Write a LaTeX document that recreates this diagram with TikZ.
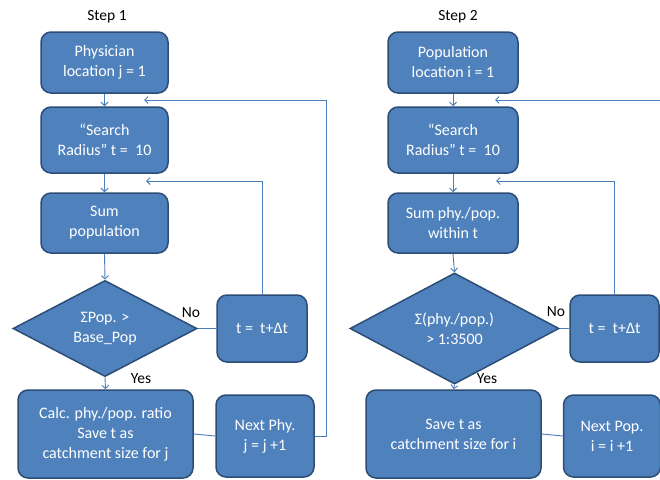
\documentclass[tikz,border=0pt]{standalone}
\usepackage{fontspec}
\setmainfont{Carlito}
\usetikzlibrary{shapes.geometric,arrows.meta}
\definecolor{boxfill}{HTML}{4F81BD}
\definecolor{boxline}{HTML}{2C4D75}
\definecolor{connc}{HTML}{4A7EBB}
\tikzset{
  box/.style={draw=boxline, fill=boxfill, line width=1.5pt, rounded corners=10pt,
    text=white, align=center, inner sep=0pt, font=\fontsize{16}{20}\selectfont},
  dec/.style={diamond, draw=boxline, fill=boxfill, line width=1.5pt,
    text=white, align=center, inner sep=0pt, font=\fontsize{16}{20}\selectfont},
  conn/.style={draw=connc, line width=0.9pt},
  arr/.style={conn, -{Straight Barb[length=3.5pt,width=7pt]}},
  lab/.style={font=\fontsize{15.5}{18}\selectfont, text=black, inner sep=0pt}
}
\begin{document}
\begin{tikzpicture}[x=1pt,y=-1pt]
\path[use as bounding box, fill=white] (0,0) rectangle (660,479);
\clip (0,0) rectangle (660,479);

% ---------- Step 1 ----------
\node[lab] (s1) at (107,17) {Step 1};
\node[box, minimum width=127pt, minimum height=61pt] (p1) at (104.5,62.5) {Physician\\location j = 1};
\node[box, minimum width=127pt, minimum height=66pt] (r1) at (104.5,140) {“Search\\Radius” t =~ 10};
\node[box, minimum width=127pt, minimum height=60pt] (u1) at (104.5,223) {Sum\\population};
\node[dec, minimum width=184pt, minimum height=93pt] (d1) at (105,328.5) {ΣPop. >\\Base\_Pop};
\node[box, minimum width=90pt, minimum height=67pt] (t1) at (262,328.5) {t =~ t+Δt};
\node[box, minimum width=175pt, minimum height=88pt] (c1) at (105.5,434) {Calc. phy./pop. ratio\\Save t as\\catchment size for j};
\node[box, minimum width=98pt, minimum height=82pt] (n1) at (265,436) {Next Phy.\\j = j +1};
\node[lab] (no1) at (191,313) {No};
\node[lab] (yes1) at (141,379) {Yes};
\coordinate (j1) at (144,100);
\coordinate (k1) at (146,181);
\coordinate (e1) at (326,100);

\draw[arr] (p1.south) -- (r1.north);
\draw[arr] (r1.south) -- (u1.north);
\draw[arr] (u1.south) -- (d1.north);
\draw[arr] (d1.south) -- (c1.north);
\draw[conn] (d1.east) -- (t1.west);
\draw[conn] (c1.east) -- (n1.west);
\draw[arr] (t1.north) |- (k1);
\draw[arr] (n1.east) -| (e1) -- (j1);

% ---------- Step 2 ----------
\node[lab] (s2) at (458,17) {Step 2};
\node[box, minimum width=130pt, minimum height=61pt] (p2) at (453,62.5) {Population\\location i = 1};
\node[box, minimum width=130pt, minimum height=66pt] (r2) at (453,140) {“Search\\Radius” t =~ 10};
\node[box, minimum width=130pt, minimum height=60pt] (u2) at (453,223) {Sum phy./pop.\\within t};
\node[dec, minimum width=209pt, minimum height=93pt] (d2) at (454.5,328.5) {Σ(phy./pop.)\\> 1:3500};
\node[box, minimum width=89pt, minimum height=67pt] (t2) at (614.5,328.5) {t =~ t+Δt};
\node[box, minimum width=175pt, minimum height=88pt] (c2) at (453.5,434) {Save t as\\catchment size for i};
\node[box, minimum width=97pt, minimum height=82pt] (n2) at (612,436) {Next Pop.\\i = i +1};
\node[lab] (no2) at (556,312) {No};
\node[lab] (yes2) at (487,379) {Yes};
\coordinate (j2) at (495,100);
\coordinate (k2) at (496,181);
\coordinate (e2) at (690,100);

\draw[arr] (p2.south) -- (r2.north);
\draw[arr] (r2.south) -- (u2.north);
\draw[arr] (u2.south) -- (d2.north);
\draw[arr] (d2.south) -- (c2.north);
\draw[conn] (d2.east) -- (t2.west);
\draw[conn] (c2.east) -- (n2.west);
\draw[arr] (t2.north) |- (k2);
\draw[arr] (n2.east) -| (e2) -- (j2);
\end{tikzpicture}
\end{document}
